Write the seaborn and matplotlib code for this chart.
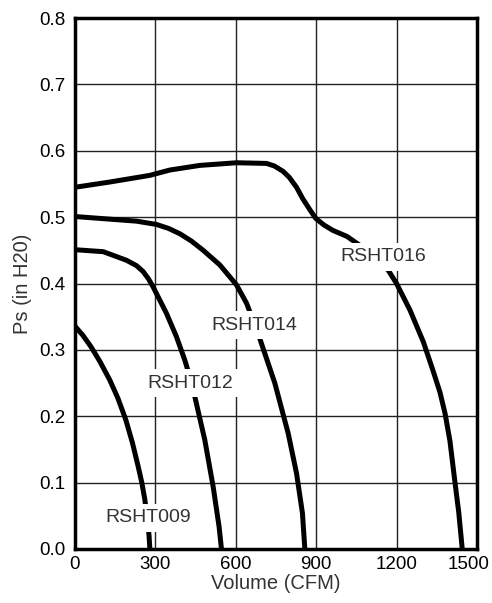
import matplotlib
matplotlib.use("Agg")
import matplotlib.pyplot as plt
import matplotlib.transforms as mtransforms
import seaborn as sns
import pandas as pd

# fan curves: volume (CFM) vs static pressure (in H2O)
rsht016_cfm = [0, 131, 280, 354, 466, 603, 715, 745, 777, 800, 827, 850, 877, 899, 930, 963, 1015,
               1090, 1169, 1200, 1250, 1300, 1335, 1362, 1381, 1399, 1418, 1432, 1445]
rsht016_ps = [0.545, 0.553, 0.563, 0.571, 0.578, 0.582, 0.581, 0.577, 0.569, 0.560, 0.545, 0.528, 0.511, 0.498, 0.488, 0.480, 0.471,
              0.450, 0.420, 0.400, 0.360, 0.312, 0.270, 0.236, 0.204, 0.163, 0.100, 0.055, 0.0]

rsht014_cfm = [0, 131, 230, 305, 350, 392, 435, 479, 541, 603, 641, 690, 746, 796, 827, 849, 858]
rsht014_ps = [0.501, 0.497, 0.494, 0.489, 0.483, 0.475, 0.464, 0.450, 0.428, 0.398, 0.370, 0.317, 0.250, 0.174, 0.114, 0.054, 0.0]

rsht012_cfm = [0, 106, 193, 230, 255, 275, 292, 342, 379, 410, 430, 448, 485, 516, 538, 547]
rsht012_ps = [0.451, 0.448, 0.435, 0.427, 0.418, 0.407, 0.395, 0.355, 0.320, 0.285, 0.258, 0.229, 0.164, 0.094, 0.034, 0.0]

rsht009_cfm = [0, 30, 60, 93, 130, 160, 190, 215, 236, 250, 261, 270, 277, 280]
rsht009_ps = [0.336, 0.322, 0.305, 0.283, 0.255, 0.228, 0.195, 0.160, 0.125, 0.100, 0.075, 0.048, 0.020, 0.0]

models = ["RSHT016", "RSHT014", "RSHT012", "RSHT009"]
label_x = [1149, 668, 430, 273]
label_y = [0.440, 0.337, 0.250, 0.047]

x_ticks = [0, 300, 600, 900, 1200, 1500]
y_ticks = [0.0, 0.1, 0.2, 0.3, 0.4, 0.5, 0.6, 0.7, 0.8]

curves = {
    "RSHT016": (rsht016_cfm, rsht016_ps),
    "RSHT014": (rsht014_cfm, rsht014_ps),
    "RSHT012": (rsht012_cfm, rsht012_ps),
    "RSHT009": (rsht009_cfm, rsht009_ps),
}

sns.set_style("white")
plt.rcParams["font.family"] = ["Liberation Sans", "DejaVu Sans"]

fig = plt.figure(figsize=(4.92, 6.03), dpi=100)
ax = fig.add_axes([0.152, 0.0896, 0.8175, 0.8804])

for name in models:
    cfm, ps = curves[name]
    df = pd.DataFrame({"cfm": cfm, "ps": ps})
    sns.lineplot(data=df, x="cfm", y="ps", sort=False, color="black",
                 linewidth=3.6, ax=ax, zorder=3)
for line in ax.get_lines():
    line.set_solid_joinstyle("round")
    line.set_solid_capstyle("butt")

# model labels sit on white boxes that hide the curve beneath them
for name, lx, ly in zip(models, label_x, label_y):
    ax.text(lx, ly, name, ha="center", va="center", fontsize=14, color="#333333",
            zorder=5, bbox=dict(facecolor="white", edgecolor="none", pad=4))

ax.set_xlim(0, 1500)
ax.set_ylim(0, 0.8)
ax.set_xticks(x_ticks)
ax.set_yticks(y_ticks)
ax.set_yticklabels([f"{v:.1f}" for v in y_ticks])
ax.grid(True, color="#222222", linewidth=1.0, zorder=1)
ax.set_axisbelow(True)
for side in ["left", "bottom", "top", "right"]:
    ax.spines[side].set_visible(True)
    ax.spines[side].set_color("black")
    ax.spines[side].set_linewidth(2.5)
ax.tick_params(axis="both", labelsize=13.5, length=0, colors="black")
ax.tick_params(axis="y", pad=7)
ax.tick_params(axis="x", pad=5)

# last x tick label sits a little left so it stays on the canvas
shift = mtransforms.ScaledTranslation(-8 / 100, 0, fig.dpi_scale_trans)
xlabels = ax.get_xticklabels()
xlabels[-1].set_transform(xlabels[-1].get_transform() + shift)

ax.set_xlabel("Volume (CFM)", fontsize=14.5, color="#333333", labelpad=1)
ax.set_ylabel("Ps (in H20)", fontsize=14.5, color="#333333", labelpad=5)

fig.savefig("out.png", dpi=100)
